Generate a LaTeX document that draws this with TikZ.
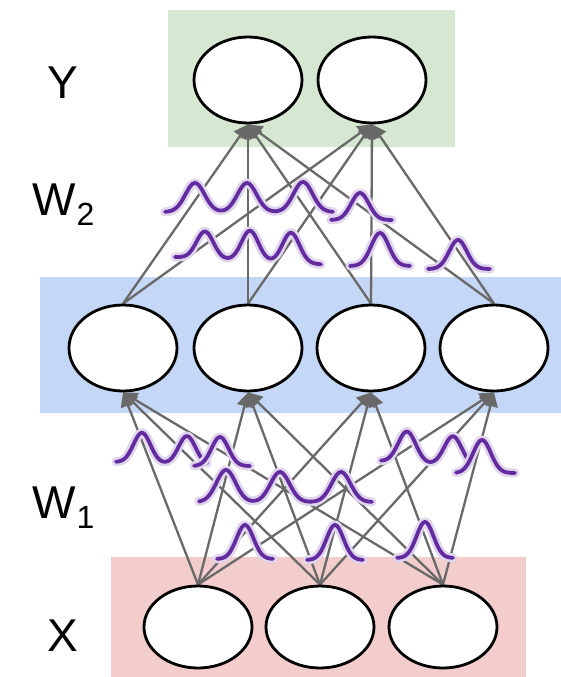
\documentclass[tikz,border=0pt]{standalone}
\usepackage{fontspec}
\setmainfont{Liberation Sans}
\usetikzlibrary{shapes.geometric,arrows.meta}

\definecolor{outgreen}{RGB}{214,232,209}
\definecolor{hidblue}{RGB}{197,215,246}
\definecolor{inpink}{RGB}{243,204,204}
\definecolor{edgegray}{RGB}{105,105,105}
\definecolor{distpurple}{RGB}{98,44,160}

\pgfdeclarelayer{bg}
\pgfdeclarelayer{mid}
\pgfsetlayers{bg,mid,main}

% gaussian bump term: centre, height, spread
\newcommand{\gterm}[3]{#2*exp(-((\x-#1)/#3)^2)}

\begin{document}
\begin{tikzpicture}[x=1pt,y=-1pt,
  neuron/.style={ellipse, draw=black, line width=2.8pt, fill=white,
                 minimum width=108pt, minimum height=86pt, inner sep=0pt},
  link/.style={draw=edgegray, line width=2.3pt,
               -{Triangle[length=14pt,width=15pt]}},
  lbl/.style={anchor=base west, inner sep=0pt, font=\fontsize{46}{46}\selectfont},
  dist/.style={preaction={draw=distpurple!20, line width=9pt, line cap=round, line join=round},
               draw=distpurple, line width=3.8pt, line cap=round, line join=round}]

\useasboundingbox (0,0) rectangle (561,677);

% layer bands
\begin{pgfonlayer}{bg}
  \fill[white] (0,0) rectangle (561,677);
  \fill[outgreen] (168,10) rectangle (455,147);
  \fill[hidblue] (40,277) rectangle (561,413);
  \fill[inpink] (111,557) rectangle (526,677);
\end{pgfonlayer}

% neurons
\node[neuron] (y1) at (248,80) {};
\node[neuron] (y2) at (372,80) {};

\node[neuron] (h1) at (123,348) {};
\node[neuron] (h2) at (248,348) {};
\node[neuron] (h3) at (371,348) {};
\node[neuron] (h4) at (494,348) {};

\node[neuron, minimum height=82pt] (x1) at (198,627) {};
\node[neuron, minimum height=82pt] (x2) at (320,627) {};
\node[neuron, minimum height=82pt] (x3) at (443,627) {};

% layer labels
\node[lbl] (ly) at (47,99) {Y};
\node[lbl] (lw2) at (32,215) {W\kern1pt\raisebox{-10pt}{\fontsize{32}{32}\selectfont 2}};
\node[lbl] (lw1) at (32,518) {W\kern1pt\raisebox{-10pt}{\fontsize{32}{32}\selectfont 1}};
\node[lbl] (lx) at (47,651) {X};

\begin{pgfonlayer}{mid}
  % weights: hidden -> output
  \foreach \i in {1,...,4}
    \foreach \j in {1,2}
      \draw[link] (h\i.north) -- (y\j.south);
  % weights: input -> hidden
  \foreach \i in {1,2,3}
    \foreach \j in {1,...,4}
      \draw[link] (x\i.north) -- (h\j.south);

  % weight distributions, second layer
  \draw[dist] plot[domain=165:333, samples=120, smooth]
    (\x, {212-\gterm{195}{29}{13.5}-\gterm{247}{29}{13.5}-\gterm{303}{30}{13.5}});
  \draw[dist] plot[domain=331:392, samples=50, smooth]
    (\x, {220-\gterm{360}{27}{12.5}});
  \draw[dist] plot[domain=175:321, samples=110, smooth]
    (\x, {257+0.05*(\x-175)-\gterm{205}{27}{12}-\gterm{250}{30}{12}-\gterm{291}{30}{12}});
  \draw[dist] plot[domain=350:410, samples=50, smooth]
    (\x, {266-\gterm{380}{33}{12.5}});
  \draw[dist] plot[domain=428:490, samples=50, smooth]
    (\x, {269-\gterm{458}{29}{12.5}});

  % weight distributions, first layer
  \draw[dist] plot[domain=116:207, samples=80, smooth]
    (\x, {462+0.03*(\x-116)-\gterm{142}{30}{12}-\gterm{187}{28}{12}});
  \draw[dist] plot[domain=194:250, samples=50, smooth]
    (\x, {466-\gterm{220}{29}{12}});
  \draw[dist] plot[domain=199:372, samples=120, smooth]
    (\x, {502-\gterm{226}{32}{13.5}-\gterm{280}{30}{13.5}-\gterm{341}{30}{13.5}});
  \draw[dist] plot[domain=381:470, samples=80, smooth]
    (\x, {461+0.06*(\x-381)-\gterm{407}{31}{12.5}-\gterm{453}{29}{12.5}});
  \draw[dist] plot[domain=456:515, samples=50, smooth]
    (\x, {473-\gterm{482}{33}{12.5}});
  \draw[dist] plot[domain=217:273, samples=50, smooth]
    (\x, {559-\gterm{245}{34}{12}});
  \draw[dist] plot[domain=307:363, samples=50, smooth]
    (\x, {560-\gterm{335}{35}{12}});
  \draw[dist] plot[domain=397:453, samples=50, smooth]
    (\x, {558-\gterm{425}{36}{12}});
\end{pgfonlayer}

\end{tikzpicture}
\end{document}
